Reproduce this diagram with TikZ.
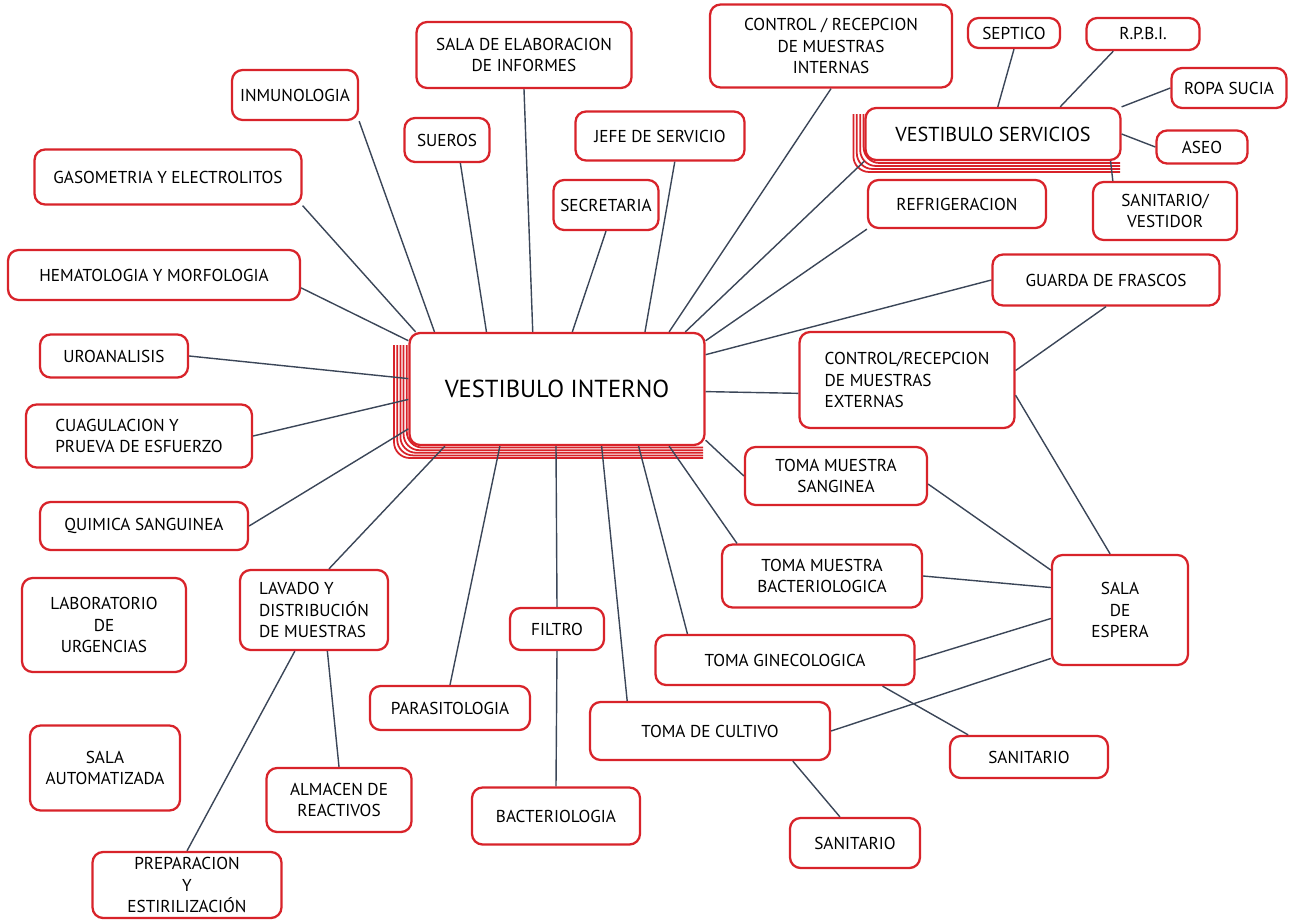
\documentclass[tikz,border=0pt]{standalone}
\usepackage{fontspec}
\setmainfont{PT Sans}
\usepackage{tikz}
\usetikzlibrary{calc}
\definecolor{boxred}{HTML}{D8232A}
\definecolor{inkgray}{HTML}{3B4658}
\begin{document}
\begin{tikzpicture}[x=0.02cm, y=-0.02cm,
    box/.style={draw=boxred, line width=1.3pt, rounded corners=6pt, fill=white,
                align=center, inner sep=2pt, font=\fontsize{9.8}{12}\selectfont},
    link/.style={draw=inkgray, line width=0.8pt},
    stack/.style={draw=boxred, line width=1pt, rounded corners=9pt}]
    \useasboundingbox (0,0) rectangle (1289,923);
            % stacked edges behind the two vestibules
            \foreach \i in {1,...,5}
                \draw[stack] (410-3.2*\i,345) |- (703,445+2.6*\i);
            \foreach \i in {1,...,4}
                \draw[stack] (867-3.4*\i,114) |- (1120,160+3*\i);
            % main nodes
            \node[box, minimum width=5.9cm, minimum height=2.24cm, font=\fontsize{14}{16}\selectfont] (vi) at (557,389) {VESTIBULO INTERNO};
            \node[box, minimum width=5.1cm, minimum height=1.04cm, font=\fontsize{11.5}{14}\selectfont] (vs) at (993,134) {VESTIBULO SERVICIOS};
            % top row
            \node[box, minimum width=4.3cm, minimum height=1.32cm] (elab) at (524,55) {SALA DE ELABORACION\\DE INFORMES};
            \node[box, minimum width=4.84cm, minimum height=1.66cm] (ctrlint) at (831,46) {CONTROL / RECEPCION\\DE MUESTRAS\\INTERNAS};
            \node[box, minimum width=1.84cm, minimum height=0.6cm] (septico) at (1014,33) {SEPTICO};
            \node[box, minimum width=2.26cm, minimum height=0.64cm] (rpbi) at (1143,34) {R.P.B.I.};
            \node[box, minimum width=2.3cm, minimum height=0.8cm] (ropa) at (1229,88) {ROPA SUCIA};
            \node[box, minimum width=2.52cm, minimum height=1.0cm] (inmun) at (295,95) {INMUNOLOGIA};
            \node[box, minimum width=1.7cm, minimum height=0.88cm] (sueros) at (447,140) {SUEROS};
            \node[box, minimum width=3.38cm, minimum height=0.98cm] (jefe) at (660,136) {JEFE DE SERVICIO};
            \node[box, minimum width=1.82cm, minimum height=0.66cm] (aseo) at (1202,147) {ASEO};
            \node[box, minimum width=5.34cm, minimum height=1.1cm] (gaso) at (168,177) {GASOMETRIA Y ELECTROLITOS};
            \node[box, minimum width=2.1cm, minimum height=1.0cm] (secre) at (606,205) {SECRETARIA};
            \node[box, minimum width=3.56cm, minimum height=0.96cm] (refrig) at (957,204) {REFRIGERACION};
            \node[box, minimum width=2.88cm, minimum height=1.16cm] (sanv) at (1165,211) {SANITARIO/\\VESTIDOR};
            \node[box, minimum width=5.84cm, minimum height=1.0cm] (hemat) at (154,275) {HEMATOLOGIA Y MORFOLOGIA};
            \node[box, minimum width=4.54cm, minimum height=1.02cm] (guarda) at (1106,280) {GUARDA DE FRASCOS};
            % middle row
            \node[box, minimum width=2.96cm, minimum height=0.86cm] (uro) at (114,356) {UROANALISIS};
            \node[box, minimum width=4.3cm, minimum height=1.92cm, align=left] (ctrlext) at (907,380) {CONTROL/RECEPCION\\DE MUESTRAS\\EXTERNAS};
            \node[box, minimum width=4.52cm, minimum height=1.26cm, align=left] (cuag) at (139,436) {CUAGULACION Y\\PRUEVA DE ESFUERZO};
            \node[box, minimum width=3.64cm, minimum height=1.16cm] (tsang) at (836,476) {TOMA MUESTRA\\SANGINEA};
            \node[box, minimum width=4.16cm, minimum height=0.96cm] (quim) at (144,526) {QUIMICA SANGUINEA};
            \node[box, minimum width=4.0cm, minimum height=1.26cm] (tbact) at (822,576) {TOMA MUESTRA\\BACTERIOLOGICA};
            \node[box, minimum width=2.72cm, minimum height=2.2cm] (espera) at (1120,610) {SALA\\DE\\ESPERA};
            % bottom rows
            \node[box, minimum width=3.28cm, minimum height=1.88cm] (urg) at (104,625) {LABORATORIO\\DE\\URGENCIAS};
            \node[box, minimum width=2.96cm, minimum height=1.6cm, align=left] (lavado) at (314,610) {LAVADO Y\\DISTRIBUCIÓN\\DE MUESTRAS};
            \node[box, minimum width=1.88cm, minimum height=0.84cm] (filtro) at (557,629) {FILTRO};
            \node[box, minimum width=5.18cm, minimum height=1.0cm] (gine) at (785,660) {TOMA GINECOLOGICA};
            \node[box, minimum width=3.2cm, minimum height=0.88cm] (parasit) at (450,708) {PARASITOLOGIA};
            \node[box, minimum width=4.8cm, minimum height=1.16cm] (cultivo) at (710,731) {TOMA DE CULTIVO};
            \node[box, minimum width=3.0cm, minimum height=1.7cm] (autom) at (105,768) {SALA\\AUTOMATIZADA};
            \node[box, minimum width=3.16cm, minimum height=0.84cm] (sanr) at (1029,757) {SANITARIO};
            \node[box, minimum width=2.9cm, minimum height=1.28cm] (almacen) at (339,800) {ALMACEN DE\\REACTIVOS};
            \node[box, minimum width=3.36cm, minimum height=1.14cm] (bact) at (556,816) {BACTERIOLOGIA};
            \node[box, minimum width=2.6cm, minimum height=1.0cm] (sanb) at (855,843) {SANITARIO};
            \node[box, minimum width=3.78cm, minimum height=1.32cm] (prep) at (187,885) {PREPARACION\\Y\\ESTIRILIZACIÓN};
            % links to vestibulo interno
            \draw[link] (elab.south) -- (vi.113);
            \draw[link] (ctrlint.south) -- (vi.27);
            \draw[link] (inmun.south east) -- (vi.155);
            \draw[link] (sueros.-60) -- (vi.141);
            \draw[link] (jefe.-60) -- (vi.33);
            \draw[link] (vs.south west) -- (vi.24);
            \draw[link] (secre.south) -- (vi.75);
            \draw[link] (refrig.south west) -- (vi.18);
            \draw[link] (gaso.south east) -- (vi.158);
            \draw[link] (hemat.-5) -- (vi.162);
            \draw[link] (uro.east) -- (vi.176);
            \draw[link] (cuag.east) -- (vi.184);
            \draw[link] (quim.east) -- (vi.195);
            \draw[link] (lavado.70) -- (vi.207);
            \draw[link] (parasit.north) -- (vi.225);
            \draw[link] (filtro.north) -- (vi.-91);
            \draw[link] (cultivo.160) -- (vi.-52);
            \draw[link] (gine.165) -- (vi.-35);
            \draw[link] (tbact.159) -- (vi.-27);
            \draw[link] (tsang.west) -- (vi.-19);
            \draw[link] (ctrlext.187) -- (vi.-1);
            \draw[link] (guarda.west) -- (vi.13);
            % sala de espera and the rest
            \draw[link] (guarda.south) -- (ctrlext.5);
            \draw[link] (ctrlext.-8) -- (espera.100);
            \draw[link] (tsang.-5) -- (espera.150);
            \draw[link] (tbact.east) -- (espera.162);
            \draw[link] (gine.east) -- (espera.187);
            \draw[link] (cultivo.east) -- (espera.215);
            \draw[link] (gine.-15) -- (sanr.160);
            \draw[link] (cultivo.-20) -- (sanb.120);
            \draw[link] (filtro.south) -- (bact.north);
            \draw[link] (lavado.-72) -- (almacen.north);
            \draw[link] (lavado.-115) -- (prep.north);
            % vestibulo servicios
            \draw[link] (septico.south) -- (vs.80);
            \draw[link] (rpbi.-150) -- (vs.22);
            \draw[link] (ropa.west) -- (vs.north east);
            \draw[link] (aseo.west) -- (vs.east);
            \draw[link] (sanv.150) -- (vs.-13);
        \end{tikzpicture}
\end{document}
